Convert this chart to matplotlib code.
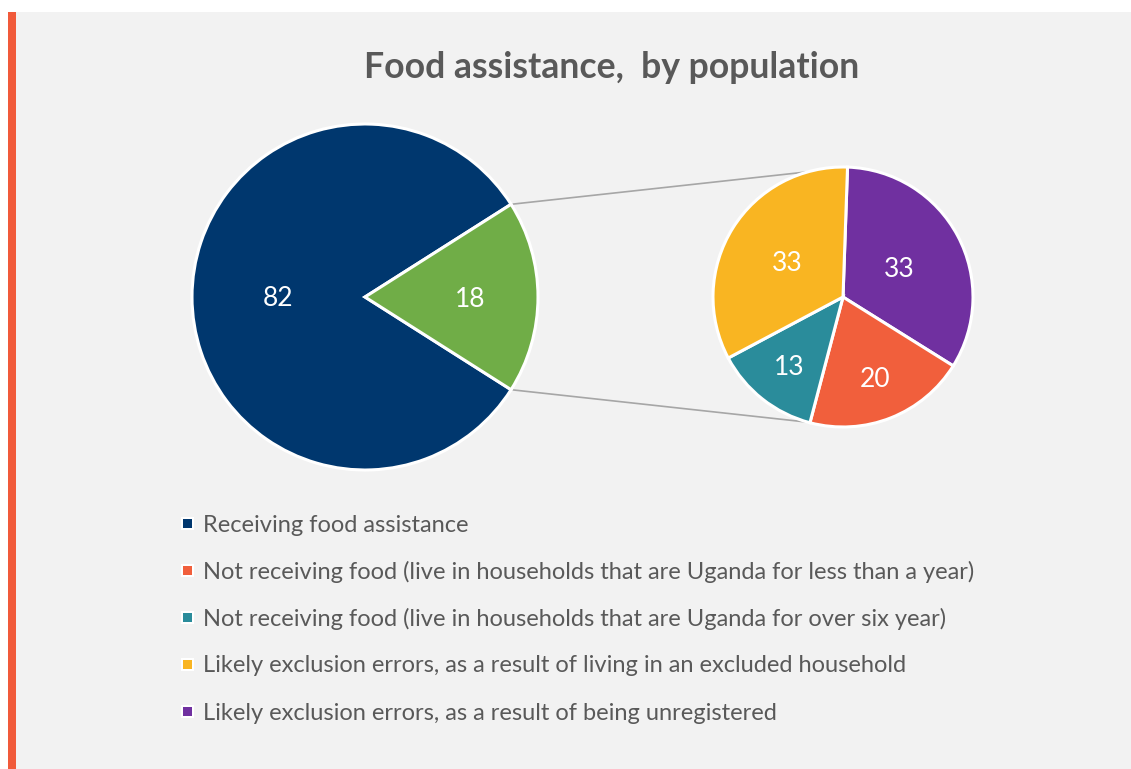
import numpy as np
import matplotlib
matplotlib.use("Agg")
from matplotlib import pyplot as plt
from matplotlib.patches import Rectangle

# data
main_labels = ["Receiving food assistance", "Not receiving food assistance"]
main_values = [82, 18]
main_colors = ["#00376e", "#70ad47"]

sub_values = [33, 20, 13, 33]   # purple, orange, teal, yellow (clockwise from top)
sub_colors = ["#7030a0", "#f15f3c", "#2a8c9b", "#f9b522"]

legend_labels = [
    "Receiving food assistance",
    "Not receiving food (live in households that are Uganda for less than a year)",
    "Not receiving food (live in households that are Uganda for over six year)",
    "Likely exclusion errors, as a result of living in an excluded household",
    "Likely exclusion errors, as a result of being unregistered",
]
legend_colors = ["#00376e", "#f15f3c", "#2a8c9b", "#f9b522", "#7030a0"]

title = "Food assistance,  by population"

plt.rcParams['font.family'] = ['Lato', 'DejaVu Sans']
txt_gray = "#595959"
W, H = 1131, 769

fig = plt.figure(figsize=(W / 100, H / 100), dpi=100, facecolor="white")
ax = fig.add_axes([0, 0, 1, 1])

# panel + accent bar
ax.add_patch(Rectangle((16, 0), W - 16, H - 12, facecolor="#f2f2f2", edgecolor="none", zorder=0))
ax.add_patch(Rectangle((8, 0), 8, H - 12, facecolor="#f15a3a", edgecolor="none", zorder=0))

ax.text(612, H - 67, title, ha="center", va="center", fontsize=25.7,
        fontweight="bold", color=txt_gray)

wedge_kw = dict(edgecolor="white", linewidth=2.2)

# main pie
c1, r1 = (365, H - 297), 173
w1, _ = ax.pie(main_values, colors=main_colors, startangle=32.4, center=c1,
               radius=r1, wedgeprops=wedge_kw, frame=True)
# sub pie
c2, r2 = (843, H - 297), 130
w2, _ = ax.pie(sub_values, colors=sub_colors, startangle=88, counterclock=False,
               center=c2, radius=r2, wedgeprops=wedge_kw, frame=True)
ax.set_xlim(0, W)
ax.set_ylim(0, H)
ax.axis("off")

def put_labels(wedges, values, center, radius, dists):
    for w, v, d in zip(wedges, values, dists):
        ang = np.deg2rad((w.theta1 + w.theta2) / 2)
        x = center[0] + d * radius * np.cos(ang)
        y = center[1] + d * radius * np.sin(ang) - 2
        ax.text(x, y, str(v), ha="center", va="center", color="white", fontsize=19)

put_labels(w1, main_values, c1, r1, [0.5, 0.61])
put_labels(w2, sub_values, c2, r2, [0.49, 0.67, 0.67, 0.51])

# connector lines from the green slice edges to the sub pie
for th in (w1[1].theta1, w1[1].theta2):
    a = np.deg2rad(th)
    x0, y0 = c1[0] + r1 * np.cos(a), c1[1] + r1 * np.sin(a)
    sgn = 1 if np.sin(a) > 0 else -1
    x1, y1 = c2[0] - 35, c2[1] + sgn * np.sqrt(r2 ** 2 - 35 ** 2)
    ax.plot([x0, x1], [y0, y1], color="#a6a6a6", lw=1.2, zorder=0.5)

# legend
for i, (lab, col) in enumerate(zip(legend_labels, legend_colors)):
    y = H - (523 + i * 47.0)
    ax.add_patch(Rectangle((181, y - 6.5), 13, 13, facecolor="white", edgecolor="none"))
    ax.add_patch(Rectangle((183, y - 4.5), 9, 9, facecolor=col, edgecolor="none"))
    ax.text(203, y - 2, lab, ha="left", va="center", fontsize=17, color=txt_gray)

fig.savefig("out.png", dpi=100, facecolor="white")
